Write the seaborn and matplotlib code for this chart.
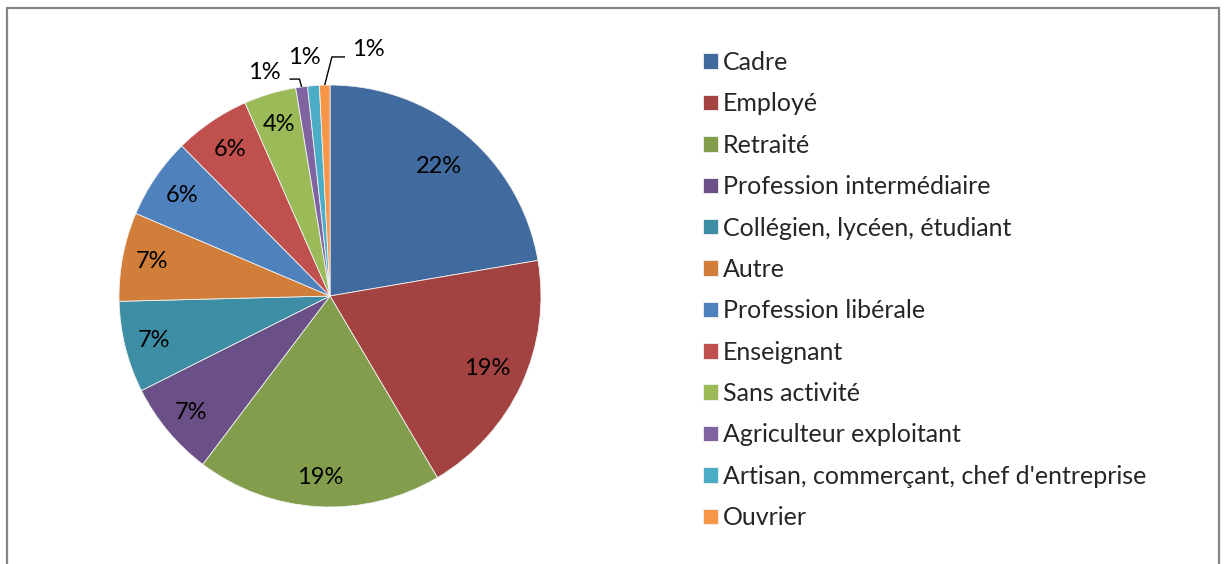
import numpy as np
import matplotlib
matplotlib.use("Agg")
import matplotlib.pyplot as plt
import seaborn as sns
from matplotlib.patches import Rectangle

# categories (legend order = slice order, clockwise from top)
categories = ["Cadre", "Employé", "Retraité", "Profession intermédiaire",
              "Collégien, lycéen, étudiant", "Autre", "Profession libérale",
              "Enseignant", "Sans activité", "Agriculteur exploitant",
              "Artisan, commerçant, chef d'entreprise", "Ouvrier"]
shares = [22.3, 19.2, 18.8, 7.3, 7.0, 6.8, 6.2, 5.8, 4.0, 0.9, 0.9, 0.8]
pct_labels = ["22%", "19%", "19%", "7%", "7%", "7%", "6%", "6%", "4%", "1%", "1%", "1%"]
colors = ["#416A9F", "#A24241", "#829E4D", "#6A5087", "#3D8EA4", "#D07E39",
          "#4F81BD", "#C0504D", "#9BBB59", "#8064A2", "#4BACC6", "#F79646"]

sns.set_style("white")
plt.rcParams["font.family"] = ["Lato", "DejaVu Sans"]
FS = 18     # legend
LFS = 17    # pie labels

fig = plt.figure(figsize=(12.26, 5.64), dpi=100)
W, H = 1226, 564
cx, cy, R = 330, 296, 211
ax = fig.add_axes([(cx - R) / W, (H - cy - R) / H, 2 * R / W, 2 * R / H])

wedges, _ = ax.pie(shares, colors=colors, startangle=90, counterclock=False,
                   radius=1.0, wedgeprops=dict(linewidth=0.6, edgecolor="#f2f2f2"))
ax.set_xlim(-1, 1)
ax.set_ylim(-1, 1)
ax.set_aspect("equal")
ax.axis("off")

# inside labels
inside_r = [0.80, 0.82, 0.86, 0.86, 0.86, 0.86, 0.85, 0.84, 0.85]
for w, lab, r in zip(wedges[:9], pct_labels[:9], inside_r):
    a = np.deg2rad((w.theta1 + w.theta2) / 2)
    ax.text(r * np.cos(a), r * np.sin(a), lab, ha="center", va="center",
            fontsize=LFS, color="black")

# outside labels for the three small slices
small_pos = [(-0.31, 1.06), (-0.12, 1.13), (0.18, 1.17)]
for i, (w, pos) in enumerate(zip(wedges[9:], small_pos)):
    a = np.deg2rad((w.theta1 + w.theta2) / 2)
    ex, ey = np.cos(a), np.sin(a)
    ax.text(pos[0], pos[1], pct_labels[9 + i], ha="center", va="center",
            fontsize=LFS, color="black", clip_on=False)
    if i == 0:
        ax.plot([ex, ex - 0.01, ex - 0.057], [ey, 1.028, 1.028], color="black",
                lw=1, clip_on=False, solid_capstyle="butt")
    elif i == 2:
        ax.plot([ex, 0.009, 0.071], [ey, 1.133, 1.133], color="black",
                lw=1, clip_on=False, solid_capstyle="butt")

# legend
leg = fig.legend(wedges, categories, loc="upper left",
                 bbox_to_anchor=(703 / W, 1 - 51 / H), frameon=False,
                 fontsize=FS, handlelength=0.58, handleheight=0.58,
                 handletextpad=0.22, labelspacing=0.735, borderaxespad=0,
                 borderpad=0)

# outer frame
fig.patches.append(Rectangle((7 / W, -0.1), (1219 - 7) / W, 1.1 - 8 / H,
                             transform=fig.transFigure, fill=False,
                             edgecolor="#868686", linewidth=1.6))

fig.savefig("out.png", dpi=100)
